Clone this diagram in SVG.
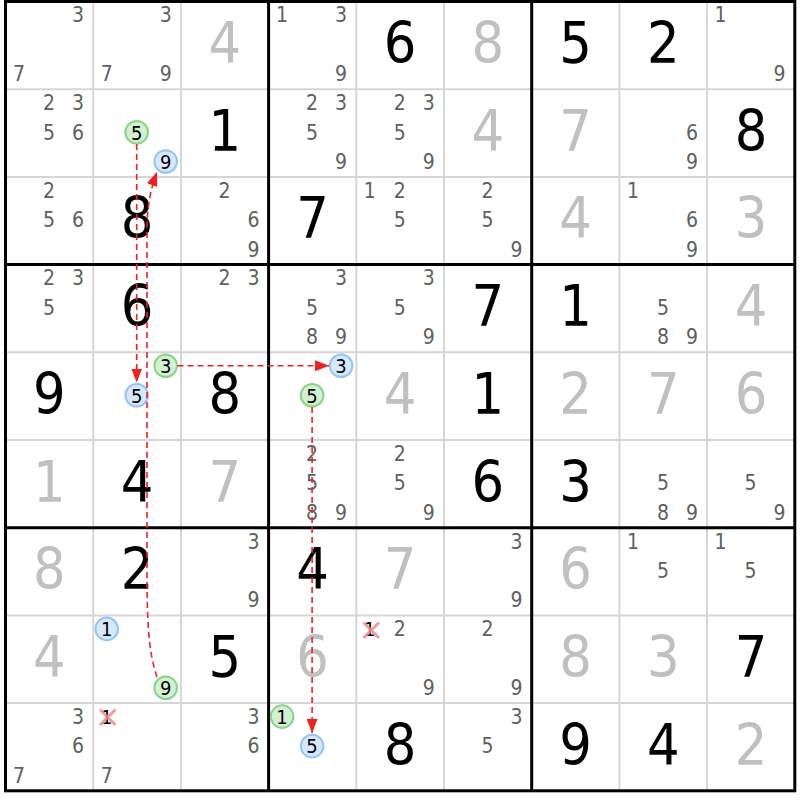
<svg xmlns="http://www.w3.org/2000/svg" width="800" height="800" viewBox="0 0 800 800">
<style>
text{font-family:'DejaVu Sans Condensed','DejaVu Sans',sans-serif;text-anchor:middle}
.g{font-size:57px;fill:#000}
.s{font-size:57px;fill:#c0c0c0}
.c{font-size:21px;fill:#606060}
.h{font-size:20px;fill:#000}
.thin{stroke:#d6d6d6;stroke-width:2}
.thick{stroke:#000;stroke-width:3}
.cg{fill:#d3f0d3;stroke:#8ad48a;stroke-width:2}
.cb{fill:#d6e8fb;stroke:#96c4f2;stroke-width:2}
.x{stroke:#f08c8c;stroke-width:3;fill:none;opacity:0.85}
.lk{stroke:#f02020;stroke-width:1.6;fill:none;stroke-dasharray:6 4}
</style>
<defs>
<marker id="ah" markerUnits="userSpaceOnUse" markerWidth="14" markerHeight="11" refX="14" refY="5.5" orient="auto">
<path d="M0,0 L14,5.5 L0,11 z" fill="#f02020"/>
</marker>
</defs>
<rect x="0" y="0" width="800" height="800" fill="#fff"/>
<g id="grid">
<path class="thin" d="M93.2,1.5V790.8M180.9,1.5V790.8M356.3,1.5V790.8M444,1.5V790.8M619.4,1.5V790.8M707.1,1.5V790.8M5.5,89.2H794.8M5.5,176.9H794.8M5.5,352.3H794.8M5.5,440H794.8M5.5,615.4H794.8M5.5,703.1H794.8"/>
<path class="thick" d="M268.6,1.5V790.8M531.7,1.5V790.8M5.5,264.6H794.8M5.5,527.7H794.8"/>
<rect class="thick" x="5.5" y="1.5" width="789.3" height="789.3" fill="none"/>
</g>
<g id="r1c1"><text class="c" x="78" y="22.3">3</text><text class="c" x="19" y="81.1">7</text></g>
<g id="r1c2"><text class="c" x="165.7" y="22.3">3</text><text class="c" x="106.7" y="81.1">7</text><text class="c" x="165.7" y="81.1">9</text></g>
<g id="r1c3"><text class="s" x="224.75" y="63">4</text></g>
<g id="r1c4"><text class="c" x="282.1" y="22.3">1</text><text class="c" x="341.1" y="22.3">3</text><text class="c" x="341.1" y="81.1">9</text></g>
<g id="r1c5"><text class="g" x="400.15" y="63">6</text></g>
<g id="r1c6"><text class="s" x="487.85" y="63">8</text></g>
<g id="r1c7"><text class="g" x="575.55" y="63">5</text></g>
<g id="r1c8"><text class="g" x="663.25" y="63">2</text></g>
<g id="r1c9"><text class="c" x="720.6" y="22.3">1</text><text class="c" x="779.6" y="81.1">9</text></g>

<g id="r2c1"><text class="c" x="49" y="110">2</text><text class="c" x="78" y="110">3</text><text class="c" x="49" y="139.5">5</text><text class="c" x="78" y="139.5">6</text></g>
<g id="r2c2"><circle class="cg" cx="136.7" cy="132.2" r="11.3"/><text class="h" x="136.7" y="139.5">5</text><circle class="cb" cx="165.7" cy="161.5" r="11.3"/><text class="h" x="165.7" y="168.8">9</text></g>
<g id="r2c3"><text class="g" x="224.75" y="150.7">1</text></g>
<g id="r2c4"><text class="c" x="312.1" y="110">2</text><text class="c" x="341.1" y="110">3</text><text class="c" x="312.1" y="139.5">5</text><text class="c" x="341.1" y="168.8">9</text></g>
<g id="r2c5"><text class="c" x="399.8" y="110">2</text><text class="c" x="428.8" y="110">3</text><text class="c" x="399.8" y="139.5">5</text><text class="c" x="428.8" y="168.8">9</text></g>
<g id="r2c6"><text class="s" x="487.85" y="150.7">4</text></g>
<g id="r2c7"><text class="s" x="575.55" y="150.7">7</text></g>
<g id="r2c8"><text class="c" x="691.9" y="139.5">6</text><text class="c" x="691.9" y="168.8">9</text></g>
<g id="r2c9"><text class="g" x="750.95" y="150.7">8</text></g>

<g id="r3c1"><text class="c" x="49" y="197.7">2</text><text class="c" x="49" y="227.2">5</text><text class="c" x="78" y="227.2">6</text></g>
<g id="r3c2"><text class="g" x="137.05" y="238.4">8</text></g>
<g id="r3c3"><text class="c" x="224.4" y="197.7">2</text><text class="c" x="253.4" y="227.2">6</text><text class="c" x="253.4" y="256.5">9</text></g>
<g id="r3c4"><text class="g" x="312.45" y="238.4">7</text></g>
<g id="r3c5"><text class="c" x="369.8" y="197.7">1</text><text class="c" x="399.8" y="197.7">2</text><text class="c" x="399.8" y="227.2">5</text></g>
<g id="r3c6"><text class="c" x="487.5" y="197.7">2</text><text class="c" x="487.5" y="227.2">5</text><text class="c" x="516.5" y="256.5">9</text></g>
<g id="r3c7"><text class="s" x="575.55" y="238.4">4</text></g>
<g id="r3c8"><text class="c" x="632.9" y="197.7">1</text><text class="c" x="691.9" y="227.2">6</text><text class="c" x="691.9" y="256.5">9</text></g>
<g id="r3c9"><text class="s" x="750.95" y="238.4">3</text></g>

<g id="r4c1"><text class="c" x="49" y="285.4">2</text><text class="c" x="78" y="285.4">3</text><text class="c" x="49" y="314.9">5</text></g>
<g id="r4c2"><text class="g" x="137.05" y="326.1">6</text></g>
<g id="r4c3"><text class="c" x="224.4" y="285.4">2</text><text class="c" x="253.4" y="285.4">3</text></g>
<g id="r4c4"><text class="c" x="341.1" y="285.4">3</text><text class="c" x="312.1" y="314.9">5</text><text class="c" x="312.1" y="344.2">8</text><text class="c" x="341.1" y="344.2">9</text></g>
<g id="r4c5"><text class="c" x="428.8" y="285.4">3</text><text class="c" x="399.8" y="314.9">5</text><text class="c" x="428.8" y="344.2">9</text></g>
<g id="r4c6"><text class="g" x="487.85" y="326.1">7</text></g>
<g id="r4c7"><text class="g" x="575.55" y="326.1">1</text></g>
<g id="r4c8"><text class="c" x="662.9" y="314.9">5</text><text class="c" x="662.9" y="344.2">8</text><text class="c" x="691.9" y="344.2">9</text></g>
<g id="r4c9"><text class="s" x="750.95" y="326.1">4</text></g>

<g id="r5c1"><text class="g" x="49.35" y="413.8">9</text></g>
<g id="r5c2"><circle class="cg" cx="165.7" cy="365.8" r="11.3"/><text class="h" x="165.7" y="373.1">3</text><circle class="cb" cx="136.7" cy="395.3" r="11.3"/><text class="h" x="136.7" y="402.6">5</text></g>
<g id="r5c3"><text class="g" x="224.75" y="413.8">8</text></g>
<g id="r5c4"><circle class="cb" cx="341.1" cy="365.8" r="11.3"/><text class="h" x="341.1" y="373.1">3</text><circle class="cg" cx="312.1" cy="395.3" r="11.3"/><text class="h" x="312.1" y="402.6">5</text></g>
<g id="r5c5"><text class="s" x="400.15" y="413.8">4</text></g>
<g id="r5c6"><text class="g" x="487.85" y="413.8">1</text></g>
<g id="r5c7"><text class="s" x="575.55" y="413.8">2</text></g>
<g id="r5c8"><text class="s" x="663.25" y="413.8">7</text></g>
<g id="r5c9"><text class="s" x="750.95" y="413.8">6</text></g>

<g id="r6c1"><text class="s" x="49.35" y="501.5">1</text></g>
<g id="r6c2"><text class="g" x="137.05" y="501.5">4</text></g>
<g id="r6c3"><text class="s" x="224.75" y="501.5">7</text></g>
<g id="r6c4"><text class="c" x="312.1" y="460.8">2</text><text class="c" x="312.1" y="490.3">5</text><text class="c" x="312.1" y="519.6">8</text><text class="c" x="341.1" y="519.6">9</text></g>
<g id="r6c5"><text class="c" x="399.8" y="460.8">2</text><text class="c" x="399.8" y="490.3">5</text><text class="c" x="428.8" y="519.6">9</text></g>
<g id="r6c6"><text class="g" x="487.85" y="501.5">6</text></g>
<g id="r6c7"><text class="g" x="575.55" y="501.5">3</text></g>
<g id="r6c8"><text class="c" x="662.9" y="490.3">5</text><text class="c" x="662.9" y="519.6">8</text><text class="c" x="691.9" y="519.6">9</text></g>
<g id="r6c9"><text class="c" x="750.6" y="490.3">5</text><text class="c" x="779.6" y="519.6">9</text></g>

<g id="r7c1"><text class="s" x="49.35" y="589.2">8</text></g>
<g id="r7c2"><text class="g" x="137.05" y="589.2">2</text></g>
<g id="r7c3"><text class="c" x="253.4" y="548.5">3</text><text class="c" x="253.4" y="607.3">9</text></g>
<g id="r7c4"><text class="g" x="312.45" y="589.2">4</text></g>
<g id="r7c5"><text class="s" x="400.15" y="589.2">7</text></g>
<g id="r7c6"><text class="c" x="516.5" y="548.5">3</text><text class="c" x="516.5" y="607.3">9</text></g>
<g id="r7c7"><text class="s" x="575.55" y="589.2">6</text></g>
<g id="r7c8"><text class="c" x="632.9" y="548.5">1</text><text class="c" x="662.9" y="578">5</text></g>
<g id="r7c9"><text class="c" x="720.6" y="548.5">1</text><text class="c" x="750.6" y="578">5</text></g>

<g id="r8c1"><text class="s" x="49.35" y="676.9">4</text></g>
<g id="r8c2"><circle class="cb" cx="106.7" cy="628.9" r="11.3"/><text class="h" x="106.7" y="636.2">1</text><circle class="cg" cx="165.7" cy="687.7" r="11.3"/><text class="h" x="165.7" y="695">9</text></g>
<g id="r8c3"><text class="g" x="224.75" y="676.9">5</text></g>
<g id="r8c4"><text class="s" x="312.45" y="676.9">6</text></g>
<g id="r8c5"><text class="h" x="369.8" y="636.2">1</text><path class="x" d="M363.5,622.5L379,638M379,622.5L363.5,638"/><text class="c" x="399.8" y="636.2">2</text><text class="c" x="428.8" y="695">9</text></g>
<g id="r8c6"><text class="c" x="487.5" y="636.2">2</text><text class="c" x="516.5" y="695">9</text></g>
<g id="r8c7"><text class="s" x="575.55" y="676.9">8</text></g>
<g id="r8c8"><text class="s" x="663.25" y="676.9">3</text></g>
<g id="r8c9"><text class="g" x="750.95" y="676.9">7</text></g>

<g id="r9c1"><text class="c" x="78" y="723.9">3</text><text class="c" x="78" y="753.4">6</text><text class="c" x="19" y="782.7">7</text></g>
<g id="r9c2"><text class="h" x="106.7" y="723.9">1</text><path class="x" d="M100,709.5L115.5,725M115.5,709.5L100,725"/><text class="c" x="106.7" y="782.7">7</text></g>
<g id="r9c3"><text class="c" x="253.4" y="723.9">3</text><text class="c" x="253.4" y="753.4">6</text></g>
<g id="r9c4"><circle class="cg" cx="282.1" cy="716.6" r="11.3"/><text class="h" x="282.1" y="723.9">1</text><circle class="cb" cx="312.1" cy="746.1" r="11.3"/><text class="h" x="312.1" y="753.4">5</text></g>
<g id="r9c5"><text class="g" x="400.15" y="764.6">8</text></g>
<g id="r9c6"><text class="c" x="516.5" y="723.9">3</text><text class="c" x="487.5" y="753.4">5</text></g>
<g id="r9c7"><text class="g" x="575.55" y="764.6">9</text></g>
<g id="r9c8"><text class="g" x="663.25" y="764.6">4</text></g>
<g id="r9c9"><text class="s" x="750.95" y="764.6">2</text></g>

<g id="links">
<path class="lk" d="M136.7,144V382.5" marker-end="url(#ah)"/>
<path class="lk" d="M177.5,365.8H329" marker-end="url(#ah)"/>
<path class="lk" d="M312.1,407V733" marker-end="url(#ah)"/>
<path class="lk" d="M157,677C148,650 147,620 147,570L147,230C147,205 151,188 157,172" marker-end="url(#ah)"/>
</g>
</svg>
